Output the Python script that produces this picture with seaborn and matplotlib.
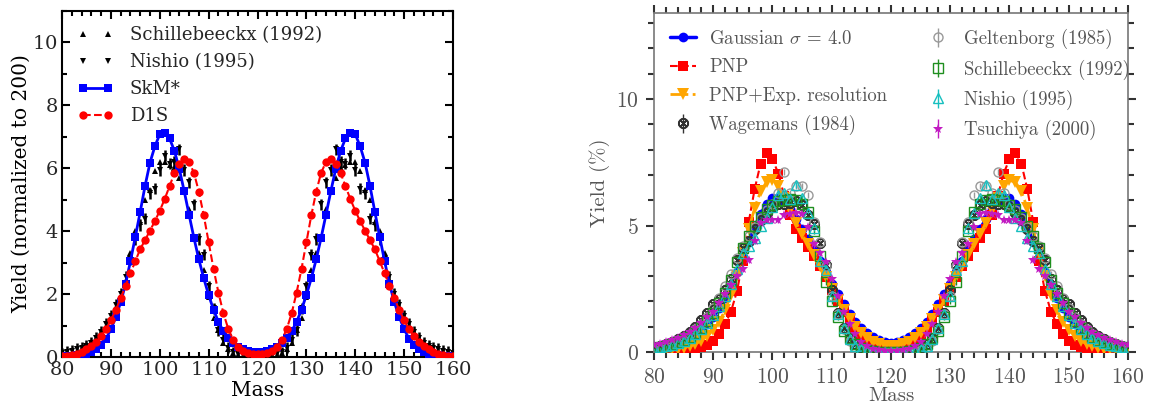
import numpy as np
import seaborn as sns
import matplotlib
matplotlib.use("Agg")
import matplotlib.pyplot as plt
from matplotlib.ticker import MultipleLocator
from matplotlib.lines import Line2D

# ---------------------------------------------------------------
# data, one value per mass number 80..160
# ---------------------------------------------------------------
mass = list(range(80, 161))

# left panel
skm_star = [0.01, 0.02, 0.03, 0.05, 0.07, 0.10, 0.16, 0.25, 0.38, 0.58, 0.88, 1.27, 1.74, 2.32, 3.05, 3.82, 4.62, 5.45, 6.18, 6.70,
            7.08, 7.12, 6.95, 6.55, 5.98, 5.27, 4.52, 3.78, 3.10, 2.50, 1.97, 1.50, 1.12, 0.82, 0.60, 0.44, 0.32, 0.24, 0.19, 0.16,
            0.15,
            0.16, 0.19, 0.24, 0.32, 0.44, 0.60, 0.82, 1.12, 1.50, 1.97, 2.50, 3.10, 3.78, 4.52, 5.27, 5.98, 6.55, 6.95, 7.12, 7.08,
            6.70, 6.18, 5.45, 4.62, 3.82, 3.05, 2.32, 1.74, 1.27, 0.88, 0.58, 0.38, 0.25, 0.16, 0.10, 0.07, 0.05, 0.03, 0.02, 0.01]
d1s = [0.02, 0.04, 0.07, 0.11, 0.17, 0.25, 0.35, 0.49, 0.67, 0.88, 1.17, 1.49, 1.87, 2.26, 2.66, 3.05, 3.43, 3.72, 4.02, 4.32,
       4.65, 5.02, 5.43, 5.85, 6.15, 6.28, 6.20, 5.85, 5.25, 4.50, 3.65, 2.80, 2.05, 1.40, 0.90, 0.55, 0.32, 0.19, 0.12, 0.09,
       0.08,
       0.09, 0.12, 0.19, 0.32, 0.55, 0.90, 1.40, 2.05, 2.80, 3.65, 4.50, 5.25, 5.85, 6.20, 6.28, 6.15, 5.85, 5.43, 5.02, 4.65,
       4.32, 4.02, 3.72, 3.43, 3.05, 2.66, 2.26, 1.87, 1.49, 1.17, 0.88, 0.67, 0.49, 0.35, 0.25, 0.17, 0.11, 0.07, 0.04, 0.02]
schill_l = [0.05, 0.08, 0.13, 0.20, 0.27, 0.37, 0.48, 0.60, 0.78, 1.00, 1.25, 1.60, 1.95, 2.45, 3.30, 4.00, 4.30, 5.00, 5.30, 5.90,
            6.20, 6.20, 6.10, 6.00, 5.70, 5.30, 4.70, 3.80, 3.30, 2.75, 1.90, 1.25, 0.85, 0.45, 0.25, 0.12, 0.05, 0.02, 0.01, 0.01,
            0.01,
            0.01, 0.01, 0.02, 0.05, 0.12, 0.25, 0.45, 0.85, 1.25, 1.90, 2.75, 3.30, 3.80, 4.70, 5.30, 5.70, 6.00, 6.10, 6.20, 6.20,
            5.90, 5.30, 5.00, 4.30, 4.00, 3.30, 2.45, 1.95, 1.60, 1.25, 1.00, 0.78, 0.60, 0.48, 0.37, 0.27, 0.20, 0.13, 0.08, 0.05]
nishio_l = [0.12, 0.16, 0.20, 0.25, 0.30, 0.36, 0.45, 0.60, 0.80, 1.05, 1.30, 1.65, 2.00, 2.55, 3.10, 3.75, 4.20, 4.40, 5.20, 5.35,
            5.95, 6.40, 6.15, 6.20, 6.60, 5.95, 5.55, 4.85, 3.75, 3.25, 2.25, 1.55, 0.85, 0.55, 0.30, 0.15, 0.08, 0.05, 0.04, 0.03,
            0.03,
            0.03, 0.04, 0.05, 0.08, 0.15, 0.30, 0.55, 0.85, 1.55, 2.25, 3.25, 3.75, 4.85, 5.55, 5.95, 6.60, 6.20, 6.15, 6.40, 5.95,
            5.35, 5.20, 4.40, 4.20, 3.75, 3.10, 2.55, 2.00, 1.65, 1.30, 1.05, 0.80, 0.60, 0.45, 0.36, 0.30, 0.25, 0.20, 0.16, 0.12]
nishio_l_err = 0.18

# right panel: theory
gauss = [0.17, 0.20, 0.25, 0.30, 0.37, 0.45, 0.56, 0.70, 0.88, 1.10, 1.38, 1.72, 2.12, 2.60, 3.15, 3.75, 4.35, 4.95, 5.45, 5.85,
         6.07, 6.10, 5.95, 5.65, 5.25, 4.85, 4.45, 4.05, 3.60, 3.15, 2.70, 2.28, 1.88, 1.52, 1.20, 0.95, 0.74, 0.58, 0.46, 0.38,
         0.35,
         0.38, 0.46, 0.58, 0.74, 0.95, 1.20, 1.52, 1.88, 2.28, 2.70, 3.15, 3.60, 4.05, 4.45, 4.85, 5.25, 5.65, 5.95, 6.10, 6.07,
         5.85, 5.45, 4.95, 4.35, 3.75, 3.15, 2.60, 2.12, 1.72, 1.38, 1.10, 0.88, 0.70, 0.56, 0.45, 0.37, 0.30, 0.25, 0.20, 0.17]
pnp = [0.02, 0.02, 0.03, 0.03, 0.04, 0.06, 0.08, 0.12, 0.18, 0.28, 0.45, 0.70, 1.10, 1.60, 2.40, 3.60, 5.15, 6.45, 7.45, 7.88,
       7.62, 7.05, 6.15, 5.40, 4.85, 4.50, 4.15, 3.80, 3.40, 2.95, 2.45, 2.00, 1.60, 1.25, 0.95, 0.70, 0.50, 0.33, 0.22, 0.15,
       0.12,
       0.15, 0.22, 0.33, 0.50, 0.70, 0.95, 1.25, 1.60, 2.00, 2.45, 2.95, 3.40, 3.80, 4.15, 4.50, 4.85, 5.40, 6.15, 7.05, 7.62,
       7.88, 7.45, 6.45, 5.15, 3.60, 2.40, 1.60, 1.10, 0.70, 0.45, 0.28, 0.18, 0.12, 0.08, 0.06, 0.04, 0.03, 0.03, 0.02, 0.02]
pnp_exp = [0.05, 0.06, 0.08, 0.10, 0.13, 0.17, 0.23, 0.32, 0.45, 0.63, 0.88, 1.20, 1.65, 2.25, 3.00, 3.90, 4.85, 5.70, 6.35, 6.72,
           6.78, 6.55, 6.10, 5.60, 5.10, 4.65, 4.25, 3.85, 3.40, 2.95, 2.50, 2.05, 1.65, 1.30, 1.00, 0.75, 0.55, 0.40, 0.30, 0.25,
           0.23,
           0.25, 0.30, 0.40, 0.55, 0.75, 1.00, 1.30, 1.65, 2.05, 2.50, 2.95, 3.40, 3.85, 4.25, 4.65, 5.10, 5.60, 6.10, 6.55, 6.78,
           6.72, 6.35, 5.70, 4.85, 3.90, 3.00, 2.25, 1.65, 1.20, 0.88, 0.63, 0.45, 0.32, 0.23, 0.17, 0.13, 0.10, 0.08, 0.06, 0.05]

# right panel: experiments
wagemans = [0.20, 0.25, 0.32, 0.40, 0.50, 0.62, 0.80, 1.00, 1.25, 1.55, 1.90, 2.10, 2.45, 2.90, 3.65, 4.10, 4.40, 4.85, 5.20, 5.50,
            5.75, 5.85, 5.85, 5.90, 5.95, 5.80, 5.40, 5.05, 4.30, 3.45, 2.45, 1.55, 0.95, 0.55, 0.30, 0.15, 0.07, 0.04, 0.02, 0.01,
            0.01,
            0.01, 0.02, 0.04, 0.07, 0.15, 0.30, 0.55, 0.95, 1.55, 2.45, 3.45, 4.30, 5.05, 5.40, 5.80, 5.95, 5.90, 5.85, 5.85, 5.75,
            5.50, 5.20, 4.85, 4.40, 4.10, 3.65, 2.90, 2.45, 2.10, 1.90, 1.55, 1.25, 1.00, 0.80, 0.62, 0.50, 0.40, 0.32, 0.25, 0.20]
geltenborg = [0.20, 0.25, 0.30, 0.38, 0.47, 0.58, 0.72, 0.90, 1.12, 1.40, 1.75, 2.15, 2.60, 3.10, 3.70, 4.20, 4.60, 4.95, 5.30, 5.60,
              5.85, 6.30, 7.10, 6.30, 6.55, 6.55, 6.20, 5.15, 4.35, 3.40, 2.20, 1.50, 0.90, 0.45, 0.20, 0.08, 0.04, 0.02, 0.01, 0.01,
              0.01,
              0.01, 0.01, 0.02, 0.04, 0.08, 0.20, 0.45, 0.90, 1.50, 2.20, 3.40, 4.35, 5.15, 6.20, 6.55, 6.55, 6.30, 7.10, 6.30, 5.85,
              5.60, 5.30, 4.95, 4.60, 4.20, 3.70, 3.10, 2.60, 2.15, 1.75, 1.40, 1.12, 0.90, 0.72, 0.58, 0.47, 0.38, 0.30, 0.25, 0.20]
schill_r = [0.15, 0.19, 0.24, 0.30, 0.38, 0.48, 0.60, 0.76, 0.96, 1.22, 1.55, 1.95, 2.35, 2.85, 3.55, 4.10, 4.60, 5.00, 5.35, 5.65,
            5.80, 5.95, 6.00, 6.05, 6.00, 5.85, 5.55, 4.80, 3.80, 2.75, 2.00, 1.40, 0.85, 0.55, 0.30, 0.14, 0.07, 0.04, 0.02, 0.01,
            0.01,
            0.01, 0.02, 0.04, 0.07, 0.14, 0.30, 0.55, 0.85, 1.40, 2.00, 2.75, 3.80, 4.80, 5.55, 5.85, 6.00, 6.05, 6.00, 5.95, 5.80,
            5.65, 5.35, 5.00, 4.60, 4.10, 3.55, 2.85, 2.35, 1.95, 1.55, 1.22, 0.96, 0.76, 0.60, 0.48, 0.38, 0.30, 0.24, 0.19, 0.15]
nishio_r = [0.15, 0.18, 0.22, 0.28, 0.35, 0.44, 0.55, 0.70, 0.90, 1.15, 1.45, 1.80, 2.20, 2.70, 3.30, 3.90, 4.20, 4.50, 5.00, 5.30,
            5.75, 6.20, 6.30, 6.05, 6.60, 6.10, 5.50, 4.90, 3.60, 3.25, 2.20, 1.50, 0.95, 0.50, 0.25, 0.12, 0.05, 0.03, 0.02, 0.01,
            0.01,
            0.01, 0.02, 0.03, 0.05, 0.12, 0.25, 0.50, 0.95, 1.50, 2.20, 3.25, 3.60, 4.90, 5.50, 6.10, 6.60, 6.05, 6.30, 6.20, 5.75,
            5.30, 5.00, 4.50, 4.20, 3.90, 3.30, 2.70, 2.20, 1.80, 1.45, 1.15, 0.90, 0.70, 0.55, 0.44, 0.35, 0.28, 0.22, 0.18, 0.15]
tsuchiya = [0.28, 0.33, 0.40, 0.47, 0.57, 0.68, 0.80, 0.95, 1.15, 1.38, 1.60, 1.95, 2.30, 2.65, 3.00, 3.30, 3.65, 4.40, 5.10, 5.20,
            5.20, 5.20, 5.40, 5.45, 5.50, 5.45, 4.95, 4.25, 3.90, 3.55, 2.90, 2.20, 1.60, 1.10, 0.70, 0.40, 0.22, 0.12, 0.07, 0.05,
            0.04,
            0.05, 0.07, 0.12, 0.22, 0.40, 0.70, 1.10, 1.60, 2.20, 2.90, 3.55, 3.90, 4.25, 4.95, 5.45, 5.50, 5.45, 5.40, 5.20, 5.20,
            5.20, 5.10, 4.40, 3.65, 3.30, 3.00, 2.65, 2.30, 1.95, 1.60, 1.38, 1.15, 0.95, 0.80, 0.68, 0.57, 0.47, 0.40, 0.33, 0.28]
exp_err = 0.12

# ---------------------------------------------------------------
sns.set_theme(style="ticks")
plt.rcParams["mathtext.fontset"] = "cm"
plt.rcParams["axes.formatter.use_mathtext"] = True

fig = plt.figure(figsize=(11.53, 4.07), dpi=100)
ax1 = fig.add_axes([0.0538, 0.1229, 0.3391, 0.850])
ax2 = fig.add_axes([0.5672, 0.1351, 0.4111, 0.833])

# ---- left panel ----
serif = "DejaVu Serif"
ax1.plot(mass, schill_l, "^", color="black", ms=4.5, mew=0, label="Schillebeeckx (1992)", zorder=3)
ax1.errorbar(mass, nishio_l, yerr=nishio_l_err, fmt="v", color="black", ms=4.5, mew=0,
             elinewidth=1.8, capsize=3.5, capthick=1.8, zorder=3)
sns.lineplot(x=mass, y=skm_star, ax=ax1, color="blue", marker="s", markersize=5.5, markeredgewidth=0,
             linewidth=2, label="SkM*", zorder=4)
sns.lineplot(x=mass, y=d1s, ax=ax1, color="red", marker="o", markersize=6, markeredgewidth=0,
             linewidth=1.5, linestyle="--", label="D1S", zorder=4)

ax1.set_xlim(80, 160)
ax1.set_ylim(0, 11)
ax1.xaxis.set_major_locator(MultipleLocator(10))
ax1.xaxis.set_minor_locator(MultipleLocator(2))
ax1.yaxis.set_major_locator(MultipleLocator(2))
ax1.yaxis.set_minor_locator(MultipleLocator(1))
ax1.tick_params(which="both", direction="in", top=True, right=True, color="black", width=1.5)
ax1.tick_params(which="major", length=6, labelsize=14, pad=3)
ax1.tick_params(which="minor", length=3.5)
for s in ax1.spines.values():
    s.set_color("black")
    s.set_linewidth(1.5)
for lab in ax1.get_xticklabels() + ax1.get_yticklabels():
    lab.set_family(serif)
ax1.set_xlabel("Mass", family=serif, fontsize=14.5, labelpad=1, color="black")
ax1.set_ylabel("Yield (normalized to 200)", family=serif, fontsize=14.5, labelpad=1, color="black")

# legend: Nishio shown as plain markers, like the original
h1, l1 = ax1.get_legend_handles_labels()
d1 = dict(zip(l1, h1))
nishio_key = Line2D([], [], marker="v", linestyle="none", color="black", ms=4.5, mew=0)
leg1 = ax1.legend([d1["Schillebeeckx (1992)"], nishio_key, d1["SkM*"], d1["D1S"]],
                  ["Schillebeeckx (1992)", "Nishio (1995)", "SkM*", "D1S"],
                  loc="upper left", frameon=False, numpoints=2,
                  prop={"family": serif, "size": 13},
                  handlelength=2.0, handletextpad=0.9, labelspacing=0.5, borderaxespad=0.45)

# ---- right panel ----
cm = "cmr10"
grey = "#555555"
sns.lineplot(x=mass, y=gauss, ax=ax2, color="blue", marker="o", markersize=7, markeredgewidth=0,
             linewidth=2.5, label=r"Gaussian $\sigma$ = 4.0", zorder=3)
sns.lineplot(x=mass, y=pnp, ax=ax2, color="red", marker="s", markersize=7.5, markeredgewidth=0,
             linewidth=1.5, linestyle="--", label="PNP", zorder=3)
sns.lineplot(x=mass, y=pnp_exp, ax=ax2, color="orange", marker="v", markersize=8.5, markeredgewidth=0,
             linewidth=2, linestyle="-.", label="PNP+Exp. resolution", zorder=3)
ax2.errorbar(mass, wagemans, yerr=exp_err, marker=r"$\otimes$", linestyle="none", color="#333333", ms=7,
             elinewidth=1, label="Wagemans (1984)", zorder=4)
ax2.errorbar(mass, geltenborg, yerr=exp_err, marker="o", linestyle="none", mfc="none", color="#999999", ms=6.5,
             elinewidth=1, mew=1, label="Geltenborg (1985)", zorder=4)
ax2.errorbar(mass, schill_r, yerr=exp_err, marker="s", linestyle="none", mfc="none", color="#1f8f1f", ms=6.5,
             elinewidth=1, mew=1, label="Schillebeeckx (1992)", zorder=4)
ax2.errorbar(mass, nishio_r, yerr=exp_err, marker="^", linestyle="none", mfc="none", color="#17bfbf", ms=6.5,
             elinewidth=1, mew=1, label="Nishio (1995)", zorder=4)
ax2.errorbar(mass, tsuchiya, yerr=exp_err, marker="*", linestyle="none", color="#c21bc2", ms=7.5,
             elinewidth=1, mew=0, label="Tsuchiya (2000)", zorder=4)

ax2.set_xlim(80, 160)
ax2.set_ylim(0, 13.4)
ax2.xaxis.set_major_locator(MultipleLocator(10))
ax2.xaxis.set_minor_locator(MultipleLocator(2))
ax2.yaxis.set_major_locator(MultipleLocator(5))
ax2.yaxis.set_minor_locator(MultipleLocator(1))
ax2.tick_params(which="both", direction="out", top=True, right=True, color="#333333", width=1.5)
ax2.tick_params(which="major", length=6, labelsize=15.5, labelcolor=grey, pad=5)
ax2.tick_params(which="minor", length=4)
for s in ax2.spines.values():
    s.set_color("#777777")
    s.set_linewidth(1.2)
for lab in ax2.get_xticklabels() + ax2.get_yticklabels():
    lab.set_family(cm)
ax2.set_xlabel("Mass", family=cm, fontsize=15, color=grey, labelpad=0)
ax2.set_ylabel("Yield (%)", family=cm, fontsize=15, color=grey, labelpad=4)

handles, labels = ax2.get_legend_handles_labels()
leg2 = ax2.legend(handles, labels, loc="upper left", ncol=2, frameon=False, numpoints=1,
                  prop={"family": cm, "size": 13.5}, handlelength=1.4, handletextpad=0.7,
                  labelspacing=0.55, columnspacing=2.0, borderaxespad=0.45)
for t in leg2.get_texts():
    t.set_color(grey)

fig.savefig("out.png", dpi=100)
